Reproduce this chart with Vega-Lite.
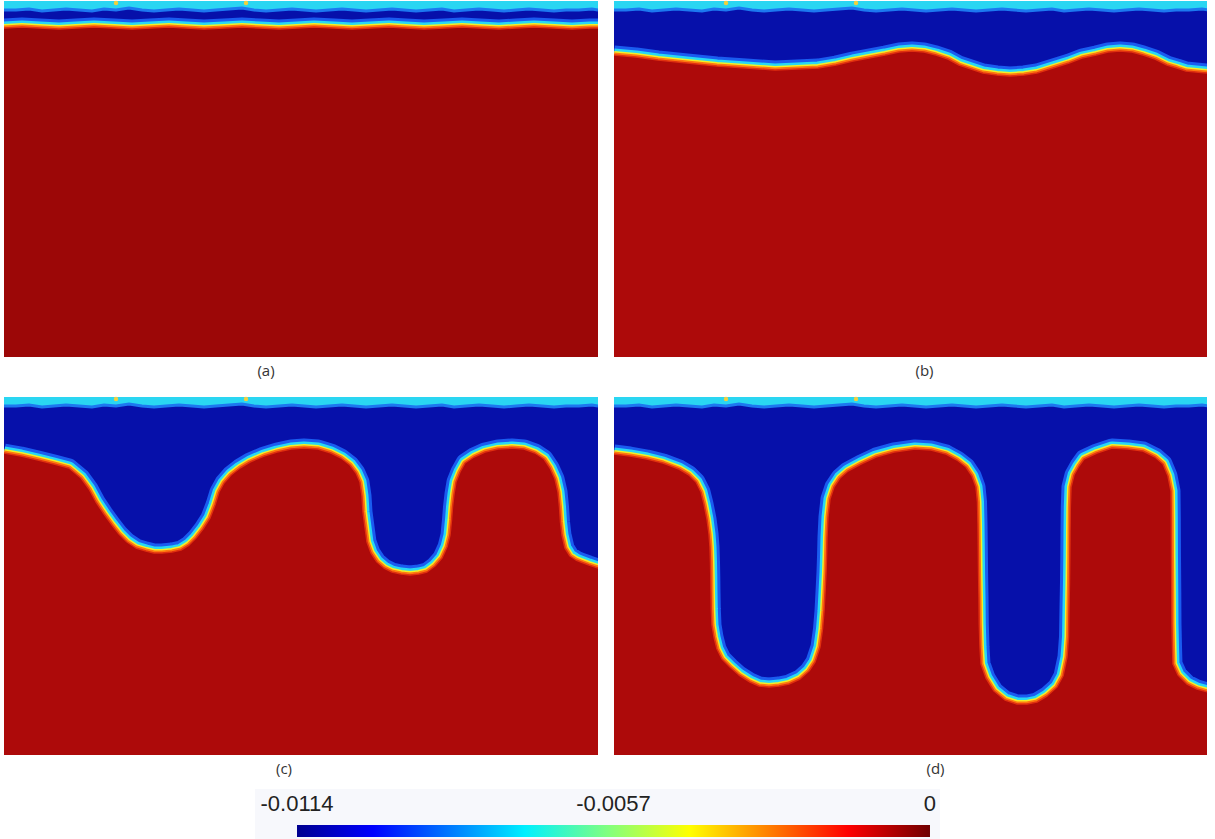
{
  "$schema": "https://vega.github.io/schema/vega-lite/v6.json",
  "background": "white",
  "padding": {"left": 4, "top": 0, "right": 0, "bottom": 0},
  "config": {"view": {"stroke": null}},
  "datasets": {
    "band": [{"x":0,"depth":9},{"x":12,"depth":9},{"x":25,"depth":8},{"x":38,"depth":10},{"x":50,"depth":9},{"x":62,"depth":8},{"x":75,"depth":9},{"x":88,"depth":10},{"x":100,"depth":8},{"x":112,"depth":9},{"x":125,"depth":7},{"x":138,"depth":9},{"x":150,"depth":10},{"x":162,"depth":9},{"x":175,"depth":8},{"x":188,"depth":9},{"x":200,"depth":10},{"x":212,"depth":9},{"x":225,"depth":8},{"x":238,"depth":7},{"x":250,"depth":9},{"x":262,"depth":10},{"x":275,"depth":9},{"x":288,"depth":8},{"x":300,"depth":9},{"x":312,"depth":10},{"x":325,"depth":9},{"x":338,"depth":8},{"x":350,"depth":9},{"x":362,"depth":10},{"x":375,"depth":9},{"x":388,"depth":8},{"x":400,"depth":9},{"x":412,"depth":10},{"x":425,"depth":9},{"x":438,"depth":8},{"x":450,"depth":10},{"x":462,"depth":9},{"x":475,"depth":8},{"x":488,"depth":9},{"x":500,"depth":10},{"x":512,"depth":9},{"x":525,"depth":8},{"x":538,"depth":9},{"x":550,"depth":10},{"x":562,"depth":9},{"x":575,"depth":9},{"x":588,"depth":8},{"x":594,"depth":9}],
    "spots": [{"x":112,"depth":2},{"x":242,"depth":2}],
    "ifa": [{"x":0,"depth":27},{"x":18,"depth":26},{"x":36,"depth":27},{"x":55,"depth":28},{"x":72,"depth":27},{"x":90,"depth":26},{"x":110,"depth":27},{"x":128,"depth":28},{"x":146,"depth":27},{"x":165,"depth":26},{"x":182,"depth":27},{"x":200,"depth":28},{"x":220,"depth":27},{"x":238,"depth":26},{"x":256,"depth":27},{"x":275,"depth":28},{"x":293,"depth":27},{"x":310,"depth":26},{"x":330,"depth":27},{"x":348,"depth":28},{"x":366,"depth":27},{"x":385,"depth":26},{"x":402,"depth":27},{"x":420,"depth":28},{"x":440,"depth":27},{"x":458,"depth":26},{"x":476,"depth":27},{"x":495,"depth":28},{"x":512,"depth":27},{"x":530,"depth":26},{"x":550,"depth":27},{"x":568,"depth":28},{"x":586,"depth":27},{"x":594,"depth":27}],
    "ifb": [{"x":0,"depth":54},{"x":22,"depth":56},{"x":44,"depth":59},{"x":73,"depth":62},{"x":103,"depth":65},{"x":132,"depth":67},{"x":161,"depth":69},{"x":183,"depth":68},{"x":204,"depth":67},{"x":222,"depth":64},{"x":239,"depth":60},{"x":255,"depth":57},{"x":271,"depth":54},{"x":285,"depth":51},{"x":298,"depth":50},{"x":310,"depth":51},{"x":322,"depth":54},{"x":334,"depth":58},{"x":345,"depth":64},{"x":357,"depth":68},{"x":369,"depth":72},{"x":383,"depth":74},{"x":396,"depth":75},{"x":410,"depth":74},{"x":423,"depth":72},{"x":439,"depth":67},{"x":455,"depth":62},{"x":468,"depth":57},{"x":482,"depth":54},{"x":494,"depth":51},{"x":506,"depth":50},{"x":518,"depth":51},{"x":529,"depth":54},{"x":541,"depth":58},{"x":553,"depth":64},{"x":563,"depth":67},{"x":572,"depth":70},{"x":582,"depth":71},{"x":594,"depth":72}],
    "ifc": [{"x":0,"depth":56},{"x":17,"depth":59},{"x":34,"depth":63},{"x":50,"depth":67},{"x":65,"depth":71},{"x":77,"depth":81},{"x":85,"depth":92},{"x":92,"depth":105},{"x":100,"depth":117},{"x":108,"depth":128},{"x":115,"depth":137},{"x":123,"depth":145},{"x":132,"depth":151},{"x":142,"depth":154},{"x":150,"depth":156},{"x":158,"depth":156},{"x":168,"depth":155},{"x":177,"depth":153},{"x":185,"depth":148},{"x":192,"depth":141},{"x":199,"depth":132},{"x":206,"depth":121},{"x":211,"depth":108},{"x":215,"depth":95},{"x":220,"depth":86},{"x":227,"depth":78},{"x":236,"depth":71},{"x":246,"depth":65},{"x":260,"depth":59},{"x":273,"depth":55},{"x":287,"depth":52},{"x":300,"depth":51},{"x":314,"depth":52},{"x":327,"depth":56},{"x":337,"depth":61},{"x":346,"depth":68},{"x":352,"depth":76},{"x":356,"depth":85},{"x":358,"depth":99},{"x":359,"depth":115},{"x":361,"depth":130},{"x":363,"depth":145},{"x":367,"depth":156},{"x":373,"depth":165},{"x":380,"depth":171},{"x":388,"depth":175},{"x":397,"depth":177},{"x":406,"depth":178},{"x":415,"depth":177},{"x":423,"depth":175},{"x":431,"depth":169},{"x":438,"depth":161},{"x":443,"depth":150},{"x":446,"depth":138},{"x":447.5,"depth":123},{"x":448.5,"depth":110},{"x":450,"depth":97},{"x":452,"depth":85},{"x":456,"depth":75},{"x":461,"depth":66},{"x":470,"depth":60},{"x":481,"depth":55},{"x":494,"depth":52},{"x":508,"depth":51},{"x":520,"depth":52},{"x":531,"depth":56},{"x":540,"depth":62},{"x":546,"depth":71},{"x":551,"depth":82},{"x":554,"depth":95},{"x":555.5,"depth":110},{"x":556.5,"depth":125},{"x":558,"depth":138},{"x":561,"depth":151},{"x":566,"depth":159},{"x":572,"depth":163},{"x":577,"depth":165},{"x":585,"depth":168},{"x":594,"depth":171}],
    "ifd": [{"x":0,"depth":57},{"x":16,"depth":59},{"x":33,"depth":62},{"x":49,"depth":66},{"x":65,"depth":72},{"x":75,"depth":78},{"x":82,"depth":85},{"x":87,"depth":95},{"x":90,"depth":107},{"x":93,"depth":122},{"x":95,"depth":137},{"x":96,"depth":150},{"x":96.5,"depth":165},{"x":96.8,"depth":180},{"x":97,"depth":195},{"x":97.3,"depth":212},{"x":98,"depth":228},{"x":100,"depth":240},{"x":103,"depth":252},{"x":108,"depth":262},{"x":116,"depth":270},{"x":125,"depth":278},{"x":136,"depth":285},{"x":145,"depth":289},{"x":155,"depth":290},{"x":165,"depth":289},{"x":175,"depth":287},{"x":186,"depth":282},{"x":195,"depth":274},{"x":201,"depth":265},{"x":206,"depth":250},{"x":208.5,"depth":232},{"x":210,"depth":214},{"x":211,"depth":195},{"x":212,"depth":175},{"x":212.5,"depth":160},{"x":213,"depth":140},{"x":214,"depth":120},{"x":216,"depth":102},{"x":220,"depth":90},{"x":226,"depth":81},{"x":234,"depth":74},{"x":247,"depth":67},{"x":262,"depth":60},{"x":280,"depth":55},{"x":301,"depth":52},{"x":317,"depth":53},{"x":332,"depth":57},{"x":343,"depth":63},{"x":352,"depth":70},{"x":358,"depth":79},{"x":362,"depth":90},{"x":363.5,"depth":105},{"x":364,"depth":127},{"x":364.3,"depth":150},{"x":364.6,"depth":177},{"x":365,"depth":200},{"x":365.3,"depth":227},{"x":366,"depth":250},{"x":367,"depth":267},{"x":372,"depth":281},{"x":380,"depth":294},{"x":391,"depth":303},{"x":403,"depth":307},{"x":413,"depth":307},{"x":423,"depth":305},{"x":433,"depth":299},{"x":443,"depth":290},{"x":449,"depth":279},{"x":453,"depth":260},{"x":454.5,"depth":240},{"x":455,"depth":210},{"x":455.5,"depth":185},{"x":455.8,"depth":160},{"x":456,"depth":135},{"x":456.3,"depth":110},{"x":457,"depth":90},{"x":460,"depth":78},{"x":465,"depth":69},{"x":470,"depth":62},{"x":483,"depth":56},{"x":498,"depth":51},{"x":514,"depth":52},{"x":529,"depth":54},{"x":541,"depth":60},{"x":549,"depth":67},{"x":554,"depth":79},{"x":557,"depth":94},{"x":557.3,"depth":120},{"x":557.5,"depth":160},{"x":557.8,"depth":195},{"x":558,"depth":227},{"x":558.5,"depth":250},{"x":559,"depth":267},{"x":564,"depth":278},{"x":573,"depth":287},{"x":583,"depth":292},{"x":594,"depth":295}],
    "cbar": [{"lo": -0.0114, "hi": 0}],
    "ticks": [{"value": -0.0114, "label": "-0.0114"}, {"value": -0.0057, "label": "-0.0057"}, {"value": 0, "label": "0"}]
  },
  "vconcat": [
    {
      "vconcat": [
        {
          "hconcat": [
            {
              "width": 594, "height": 356,
              "view": {"fill": "#0610aa", "stroke": null},
              "title": {"text": "(a)", "orient": "bottom", "anchor": "middle", "dx": -35, "offset": 7, "fontSize": 15, "font": "Open Sans", "fontWeight": "normal", "color": "#333333"},
              "encoding": {
                "x": {"field": "x", "type": "quantitative", "scale": {"domain": [0, 594], "nice": false, "zero": false}, "axis": null},
                "y": {"field": "depth", "type": "quantitative", "scale": {"domain": [0, 356], "reverse": true, "nice": false, "zero": false}, "axis": null, "stack": null}
              },
              "layer": [
                {"data": {"name": "band"}, "mark": {"type": "area", "color": "#2ad6f2", "clip": true}, "encoding": {"y2": {"datum": 0}}},
                {"data": {"name": "band"}, "mark": {"type": "line", "color": "#1c78f0", "strokeWidth": 3, "clip": true}},
                {"data": {"name": "ifa"}, "mark": {"type": "line", "color": "#1a5cf0", "strokeWidth": 19, "strokeJoin": "round", "clip": true}},
                {"data": {"name": "ifa"}, "mark": {"type": "line", "color": "#28d8f4", "strokeWidth": 13, "strokeJoin": "round", "clip": true}},
                {"data": {"name": "ifa"}, "mark": {"type": "line", "color": "#f0f028", "strokeWidth": 8, "strokeJoin": "round", "clip": true}},
                {"data": {"name": "ifa"}, "mark": {"type": "line", "color": "#ff7810", "strokeWidth": 5, "strokeJoin": "round", "clip": true}},
                {"data": {"name": "ifa"}, "mark": {"type": "area", "color": "#9c0707", "clip": true}, "encoding": {"y2": {"datum": 356}}},
                {"data": {"name": "ifa"}, "mark": {"type": "line", "color": "#e03010", "strokeWidth": 1.5, "strokeJoin": "round", "clip": true}},
                {"data": {"name": "spots"}, "mark": {"type": "point", "filled": true, "color": "#f0d040", "size": 20, "opacity": 1}}
              ]
            },
            {
              "width": 593, "height": 356,
              "view": {"fill": "#0610aa", "stroke": null},
              "title": {"text": "(b)", "orient": "bottom", "anchor": "middle", "dx": 14, "offset": 7, "fontSize": 15, "font": "Open Sans", "fontWeight": "normal", "color": "#333333"},
              "encoding": {
                "x": {"field": "x", "type": "quantitative", "scale": {"domain": [0, 593], "nice": false, "zero": false}, "axis": null},
                "y": {"field": "depth", "type": "quantitative", "scale": {"domain": [0, 356], "reverse": true, "nice": false, "zero": false}, "axis": null, "stack": null}
              },
              "layer": [
                {"data": {"name": "band"}, "mark": {"type": "area", "color": "#2ad6f2", "clip": true}, "encoding": {"y2": {"datum": 0}}},
                {"data": {"name": "band"}, "mark": {"type": "line", "color": "#1c78f0", "strokeWidth": 3, "clip": true}},
                {"data": {"name": "ifb"}, "mark": {"type": "line", "color": "#1a5cf0", "strokeWidth": 19, "strokeJoin": "round", "clip": true}},
                {"data": {"name": "ifb"}, "mark": {"type": "line", "color": "#28d8f4", "strokeWidth": 13, "strokeJoin": "round", "clip": true}},
                {"data": {"name": "ifb"}, "mark": {"type": "line", "color": "#f0f028", "strokeWidth": 8, "strokeJoin": "round", "clip": true}},
                {"data": {"name": "ifb"}, "mark": {"type": "line", "color": "#ff7810", "strokeWidth": 5, "strokeJoin": "round", "clip": true}},
                {"data": {"name": "ifb"}, "mark": {"type": "area", "color": "#ad0a0a", "clip": true}, "encoding": {"y2": {"datum": 356}}},
                {"data": {"name": "ifb"}, "mark": {"type": "line", "color": "#e03010", "strokeWidth": 1.5, "strokeJoin": "round", "clip": true}},
                {"data": {"name": "spots"}, "mark": {"type": "point", "filled": true, "color": "#f0d040", "size": 20, "opacity": 1}}
              ]
            }
          ],
          "spacing": 16,
          "bounds": "flush"
        },
        {
          "hconcat": [
            {
              "width": 594, "height": 358,
              "view": {"fill": "#0610aa", "stroke": null},
              "title": {"text": "(c)", "orient": "bottom", "anchor": "middle", "dx": -17, "offset": 7, "fontSize": 15, "font": "Open Sans", "fontWeight": "normal", "color": "#333333"},
              "encoding": {
                "x": {"field": "x", "type": "quantitative", "scale": {"domain": [0, 594], "nice": false, "zero": false}, "axis": null},
                "y": {"field": "depth", "type": "quantitative", "scale": {"domain": [0, 358], "reverse": true, "nice": false, "zero": false}, "axis": null, "stack": null}
              },
              "layer": [
                {"data": {"name": "band"}, "mark": {"type": "area", "color": "#2ad6f2", "clip": true}, "encoding": {"y2": {"datum": 0}}},
                {"data": {"name": "band"}, "mark": {"type": "line", "color": "#1c78f0", "strokeWidth": 3, "clip": true}},
                {"data": {"name": "ifc"}, "mark": {"type": "line", "color": "#1a5cf0", "strokeWidth": 19, "strokeJoin": "round", "clip": true}},
                {"data": {"name": "ifc"}, "mark": {"type": "line", "color": "#28d8f4", "strokeWidth": 13, "strokeJoin": "round", "clip": true}},
                {"data": {"name": "ifc"}, "mark": {"type": "line", "color": "#f0f028", "strokeWidth": 8, "strokeJoin": "round", "clip": true}},
                {"data": {"name": "ifc"}, "mark": {"type": "line", "color": "#ff7810", "strokeWidth": 5, "strokeJoin": "round", "clip": true}},
                {"data": {"name": "ifc"}, "mark": {"type": "area", "color": "#ad0a0a", "clip": true}, "encoding": {"y2": {"datum": 358}}},
                {"data": {"name": "ifc"}, "mark": {"type": "line", "color": "#e03010", "strokeWidth": 1.5, "strokeJoin": "round", "clip": true}},
                {"data": {"name": "spots"}, "mark": {"type": "point", "filled": true, "color": "#f0d040", "size": 20, "opacity": 1}}
              ]
            },
            {
              "width": 593, "height": 358,
              "view": {"fill": "#0610aa", "stroke": null},
              "title": {"text": "(d)", "orient": "bottom", "anchor": "middle", "dx": 25, "offset": 7, "fontSize": 15, "font": "Open Sans", "fontWeight": "normal", "color": "#333333"},
              "encoding": {
                "x": {"field": "x", "type": "quantitative", "scale": {"domain": [0, 593], "nice": false, "zero": false}, "axis": null},
                "y": {"field": "depth", "type": "quantitative", "scale": {"domain": [0, 358], "reverse": true, "nice": false, "zero": false}, "axis": null, "stack": null}
              },
              "layer": [
                {"data": {"name": "band"}, "mark": {"type": "area", "color": "#2ad6f2", "clip": true}, "encoding": {"y2": {"datum": 0}}},
                {"data": {"name": "band"}, "mark": {"type": "line", "color": "#1c78f0", "strokeWidth": 3, "clip": true}},
                {"data": {"name": "ifd"}, "mark": {"type": "line", "color": "#1a5cf0", "strokeWidth": 19, "strokeJoin": "round", "clip": true}},
                {"data": {"name": "ifd"}, "mark": {"type": "line", "color": "#28d8f4", "strokeWidth": 13, "strokeJoin": "round", "clip": true}},
                {"data": {"name": "ifd"}, "mark": {"type": "line", "color": "#f0f028", "strokeWidth": 8, "strokeJoin": "round", "clip": true}},
                {"data": {"name": "ifd"}, "mark": {"type": "line", "color": "#ff7810", "strokeWidth": 5, "strokeJoin": "round", "clip": true}},
                {"data": {"name": "ifd"}, "mark": {"type": "area", "color": "#ad0a0a", "clip": true}, "encoding": {"y2": {"datum": 358}}},
                {"data": {"name": "ifd"}, "mark": {"type": "line", "color": "#e03010", "strokeWidth": 1.5, "strokeJoin": "round", "clip": true}},
                {"data": {"name": "spots"}, "mark": {"type": "point", "filled": true, "color": "#f0d040", "size": 20, "opacity": 1}}
              ]
            }
          ],
          "spacing": 16,
          "bounds": "flush"
        }
      ],
      "spacing": 17
    },
    {
      "width": 1211, "height": 51,
      "view": {"stroke": null},
      "layer": [
        {
          "data": {"values": [{}]},
          "mark": {"type": "rect", "color": "#f7f8fc"},
          "encoding": {
            "x": {"datum": -0.012156, "type": "quantitative", "scale": {"domain": [-0.016677, 0.005133], "nice": false, "zero": false}, "axis": null},
            "x2": {"datum": 0.00018},
            "y": {"datum": 0, "type": "quantitative", "scale": {"domain": [0, 51], "nice": false, "zero": false}, "axis": null},
            "y2": {"datum": 51}
          }
        },
        {
          "data": {"name": "cbar"},
          "mark": {"type": "rect", "color": {"gradient": "linear", "x1": 0, "y1": 0, "x2": 1, "y2": 0, "stops": [
            {"offset": 0, "color": "#00008f"},
            {"offset": 0.12, "color": "#0000ff"},
            {"offset": 0.36, "color": "#00f0ff"},
            {"offset": 0.49, "color": "#80ff80"},
            {"offset": 0.62, "color": "#ffff00"},
            {"offset": 0.87, "color": "#ff0000"},
            {"offset": 1, "color": "#700000"}
          ]}},
          "encoding": {
            "x": {"field": "lo", "type": "quantitative"},
            "x2": {"field": "hi"},
            "y": {"datum": 3, "type": "quantitative"},
            "y2": {"datum": 15}
          }
        },
        {
          "data": {"name": "ticks"},
          "mark": {"type": "text", "font": "Liberation Sans", "fontSize": 22, "color": "#222222", "baseline": "middle", "align": "center"},
          "encoding": {
            "x": {"field": "value", "type": "quantitative"},
            "y": {"datum": 36, "type": "quantitative"},
            "text": {"field": "label"}
          }
        }
      ]
    }
  ],
  "spacing": 12
}
